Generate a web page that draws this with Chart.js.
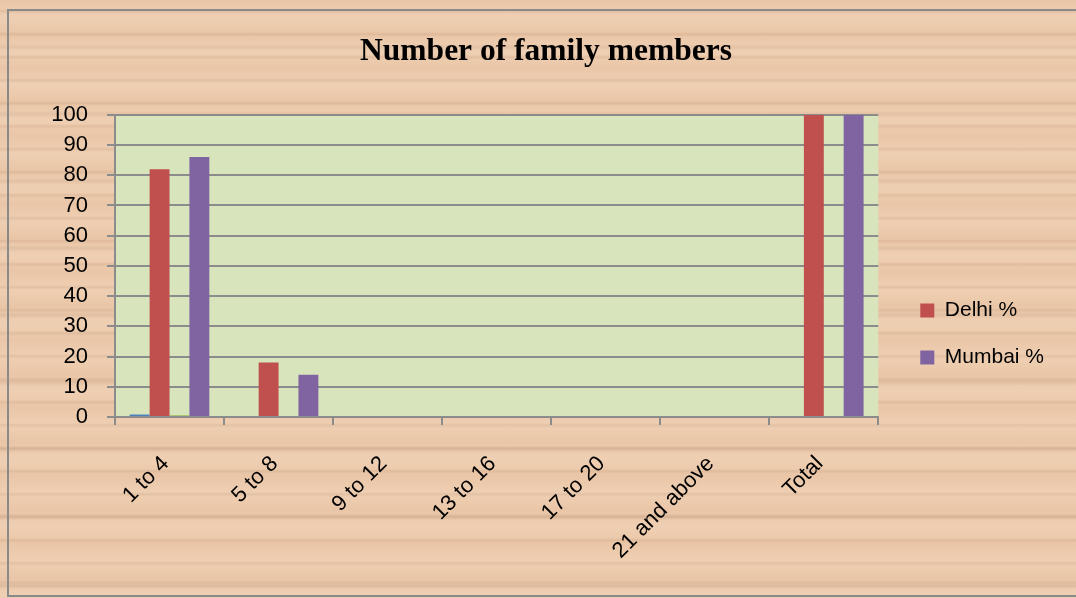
<!DOCTYPE html>
<html>
<head>
<meta charset="utf-8">
<script src="https://cdn.jsdelivr.net/npm/chart.js@4.4.1/dist/chart.umd.min.js"></script>
<style>
    html, body { margin: 0; padding: 0; }
    body { width: 1076px; height: 598px; overflow: hidden; position: relative;
        background-color: #eac6a7;
        background-image:
            repeating-linear-gradient(180deg, rgba(150,105,70,0) 0px, rgba(150,105,70,0) 9px, rgba(150,105,70,0.14) 11px, rgba(150,105,70,0) 14px, rgba(150,105,70,0) 23px),
            repeating-linear-gradient(180deg, rgba(255,235,215,0) 0px, rgba(255,235,215,0.25) 17px, rgba(255,235,215,0) 34px),
            repeating-linear-gradient(180deg, rgba(120,80,50,0) 0px, rgba(120,80,50,0) 44px, rgba(120,80,50,0.12) 47px, rgba(120,80,50,0) 51px, rgba(120,80,50,0) 67px);
    }
    #frame { position: absolute; left: 7px; top: 9px; width: 1080px; height: 584px;
        border-left: 2px solid #8a8a8a; border-top: 2px solid #8a8a8a; border-bottom: 2px solid #8a8a8a; }
    #wrap { position: absolute; left: 0; top: 0; width: 1076px; height: 598px; }
</style>
</head>
<body>
<div id="frame"></div>
<div id="wrap"><canvas id="chart"></canvas></div>
<script>
var categories = ['1 to 4', '5 to 8', '9 to 12', '13 to 16', '17 to 20', '21 and above', 'Total'];
var delhi = [0.8, 0, 0, 0, 0, 0, 0];
var delhiPct = [82, 18, 0, 0, 0, 0, 100];
var mumbai = [0.6, 0, 0, 0, 0, 0, 0];
var mumbaiPct = [86, 14, 0, 0, 0, 0, 100];
var yTicks = [0, 10, 20, 30, 40, 50, 60, 70, 80, 90, 100];

// fondo verde del area del grafico
var plotBg = {
    id: 'plotBg',
    beforeDraw: function(chart) {
        var a = chart.chartArea;
        var ctx = chart.ctx;
        ctx.save();
        ctx.fillStyle = '#d8e4bc';
        ctx.fillRect(a.left, a.top, a.right - a.left, a.bottom - a.top);
        ctx.restore();
    }
};

// ajustar posicion de leyenda y titulo
var boxShift = {
    id: 'boxShift',
    afterLayout: function(chart) {
        var lg = chart.legend;
        if (lg) {
            var dx = (chart.chartArea.right + 16) - lg.left;
            var dy = 35;
            lg.left += dx; lg.right += dx;
            lg.top += dy; lg.bottom += dy;
        }
        var tb = chart.titleBlock;
        if (tb) {
            var tx = 546 - (tb.left + tb.right) / 2;
            tb.left += tx; tb.right += tx;
        }
    }
};

var ctx = document.getElementById('chart');
new Chart(ctx, {
    type: 'bar',
    data: {
        labels: categories,
        datasets: [
            { label: 'Delhi', data: delhi, backgroundColor: '#4f81bd' },
            { label: 'Delhi %', data: delhiPct, backgroundColor: '#c0504d' },
            { label: 'Mumbai', data: mumbai, backgroundColor: '#9bbb59' },
            { label: 'Mumbai %', data: mumbaiPct, backgroundColor: '#8064a2' }
        ]
    },
    options: {
        responsive: true,
        maintainAspectRatio: false,
        animation: false,
        layout: { padding: { left: 18, right: 38, top: 0, bottom: 0 } },
        datasets: { bar: { categoryPercentage: 0.73, barPercentage: 1 } },
        scales: {
            x: {
                afterFit: function(axis) { axis.height = 181; },
                grid: { display: true, drawOnChartArea: false, drawTicks: true, offset: true,
                        color: '#8c8c8c', lineWidth: 2, tickLength: 8 },
                border: { color: '#8c8c8c', width: 2 },
                ticks: {
                    color: '#000',
                    font: { family: 'Liberation Sans', size: 22 },
                    minRotation: 45, maxRotation: 45, padding: 26, labelOffset: -4
                }
            },
            y: {
                min: 0, max: 100,
                afterFit: function(axis) { axis.width = 97; },
                afterBuildTicks: function(axis) {
                    axis.ticks = yTicks.map(function(v) { return { value: v }; });
                },
                grid: { color: '#8c8c8c', lineWidth: 2, tickLength: 8 },
                border: { color: '#8c8c8c', width: 2 },
                ticks: {
                    color: '#000',
                    font: { family: 'Liberation Sans', size: 22 },
                    padding: 19
                }
            }
        },
        plugins: {
            title: {
                display: true,
                text: 'Number of family members',
                color: '#000',
                font: { family: 'Liberation Serif', size: 31.5, weight: 'bold' },
                padding: { top: 33, bottom: 44 }
            },
            legend: {
                position: 'right',
                labels: {
                    color: '#000',
                    font: { family: 'Liberation Sans', size: 21 },
                    boxWidth: 14, boxHeight: 14, padding: 26,
                    filter: function(item) { return item.datasetIndex % 2 === 1; }
                }
            },
            tooltip: { enabled: false }
        }
    },
    plugins: [plotBg, boxShift]
});
</script>
</body>
</html>
